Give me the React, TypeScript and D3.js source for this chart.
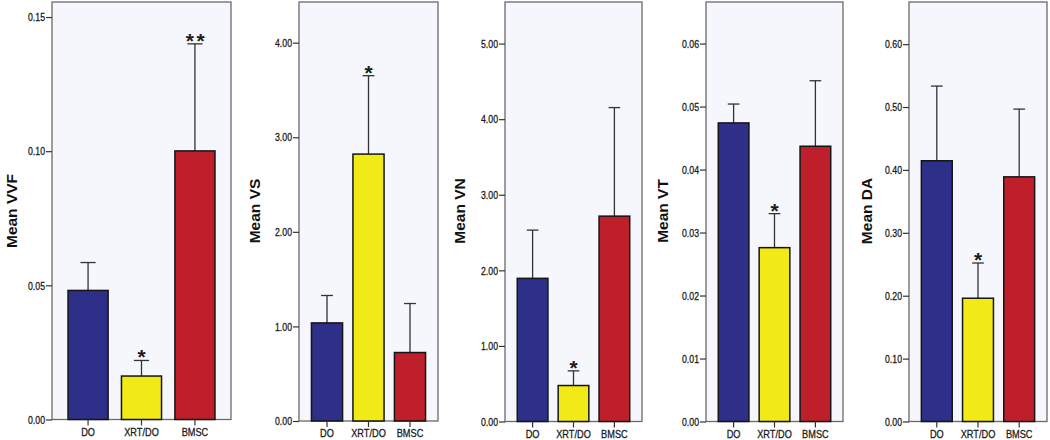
import React from 'react';
import * as d3 from 'd3';

const width = 1050;
const height = 440;
const frameTop = 2;

const groups = ['DO', 'XRT/DO', 'BMSC'];
const groupColors = ['#2e2f88', '#f1ea16', '#bf1f2b'];

const measures = ['VVF', 'VS', 'VN', 'VT', 'DA'];

// bar heights (means) and tops of the error bars
const vvfMeans = [0.0481, 0.0162, 0.1001];
const vvfUpper = [0.0585, 0.022, 0.14];
const vsMeans = [1.037, 2.822, 0.724];
const vsUpper = [1.327, 3.651, 1.242];
const vnMeans = [1.894, 0.476, 2.717];
const vnUpper = [2.532, 0.67, 4.153];
const vtMeans = [0.0474, 0.0276, 0.0437];
const vtUpper = [0.0504, 0.033, 0.0541];
const daMeans = [0.4146, 0.196, 0.389];
const daUpper = [0.5333, 0.252, 0.4967];

const vvfStars = ['', '*', '**'];
const vsStars = ['', '*', ''];
const vnStars = ['', '*', ''];
const vtStars = ['', '*', ''];
const daStars = ['', '*', ''];

const axisMax = [0.1556, 4.43, 5.55, 0.0666, 0.667];
const vvfTicks = [0, 0.05, 0.1, 0.15];
const vsTicks = [0, 1, 2, 3, 4];
const vnTicks = [0, 1, 2, 3, 4, 5];
const vtTicks = [0, 0.01, 0.02, 0.03, 0.04, 0.05, 0.06];
const daTicks = [0, 0.1, 0.2, 0.3, 0.4, 0.5, 0.6];

const means = [vvfMeans, vsMeans, vnMeans, vtMeans, daMeans];
const uppers = [vvfUpper, vsUpper, vnUpper, vtUpper, daUpper];
const stars = [vvfStars, vsStars, vnStars, vtStars, daStars];
const ticks = [vvfTicks, vsTicks, vnTicks, vtTicks, daTicks];

// plot boxes of the five panels
const frames = [
  {left: 52, right: 231, bottom: 419.5, titleGap: 35},
  {left: 299, right: 438, bottom: 421, titleGap: 39},
  {left: 505, right: 642, bottom: 421.5, titleGap: 40},
  {left: 706, right: 843, bottom: 421.5, titleGap: 38},
  {left: 909, right: 1047, bottom: 421.5, titleGap: 37},
];

const font = '"Liberation Sans", Arial, Helvetica, sans-serif';

// SPSS labels are narrower than Arial, squash them a bit
const squeeze = (sel: d3.Selection<any, any, any, any>, k: number) => {
  sel.selectAll('text').each(function () {
    const el = this as SVGTextElement;
    const w = el.getComputedTextLength();
    el.setAttribute('textLength', String(w * k));
    el.setAttribute('lengthAdjust', 'spacingAndGlyphs');
  });
};

const Panel: React.FC<{index: number}> = ({index}) => {
  const yAxisRef = React.useRef<SVGGElement>(null);
  const xAxisRef = React.useRef<SVGGElement>(null);
  const f = frames[index];

  const xScale = d3.scaleBand<string>()
    .domain(groups)
    .range([f.left, f.right])
    .paddingInner(0.25)
    .paddingOuter(0.3);

  const yScale = d3.scaleLinear()
    .domain([0, axisMax[index]])
    .range([f.bottom, frameTop]);

  React.useEffect(() => {
    if (yAxisRef.current) {
      const yAxis = d3.axisLeft(yScale)
        .tickValues(ticks[index])
        .tickFormat(d3.format('.2f'))
        .tickSize(6)
        .tickPadding(1);
      const g = d3.select(yAxisRef.current).call(yAxis);
      g.attr('font-size', 11.5).attr('font-family', font);
      g.select('.domain').remove();
      g.selectAll('line').attr('stroke', '#333').attr('stroke-width', 1.2);
      g.selectAll('text').attr('fill', '#1a1a1a').attr('stroke', '#1a1a1a').attr('stroke-width', 0.3);
      squeeze(g, 0.76);
    }
    if (xAxisRef.current) {
      const xAxis = d3.axisBottom(xScale).tickSize(6).tickPadding(2);
      const g = d3.select(xAxisRef.current).call(xAxis);
      g.attr('font-size', 11.5).attr('font-family', font);
      g.select('.domain').remove();
      g.selectAll('line').attr('stroke', '#333').attr('stroke-width', 1.2);
      g.selectAll('text').attr('fill', '#1a1a1a').attr('stroke', '#1a1a1a').attr('stroke-width', 0.3);
      squeeze(g, 0.8);
    }
  }, [index]);

  const bw = xScale.bandwidth();
  const capW = bw * 0.38;

  return (
    <g>
      <rect x={f.left} y={frameTop} width={f.right - f.left} height={f.bottom - frameTop}
        fill='#f5f7fc' stroke='#6a6a6a' strokeWidth={1.3} />
      {groups.map((grp, i) => {
        const x0 = xScale(grp) as number;
        const cx = x0 + bw / 2;
        const yTop = yScale(means[index][i]);
        const yErr = yScale(uppers[index][i]);
        const star = stars[index][i];
        return (
          <g key={grp}>
            <line x1={cx} x2={cx} y1={yTop} y2={yErr} stroke='#333' strokeWidth={1.3} />
            <line x1={cx - capW / 2} x2={cx + capW / 2} y1={yErr} y2={yErr} stroke='#333' strokeWidth={1.3} />
            <rect x={x0} y={yTop} width={bw} height={f.bottom - yTop}
              fill={groupColors[i]} stroke='#151515' strokeWidth={1.5} />
            {star && (
              <text x={cx + (star.length > 1 ? 1.5 : 0)} y={yErr + 4} textAnchor='middle'
                fontFamily={font} fontWeight='bold' fontSize={21} letterSpacing={star.length > 1 ? 2.5 : 0}
                fill='#1a1a1a'>
                {star}
              </text>
            )}
          </g>
        );
      })}
      <g ref={yAxisRef} transform={`translate(${f.left}, 0)`} />
      <g ref={xAxisRef} transform={`translate(0, ${f.bottom})`} />
      <text transform={`translate(${f.left - f.titleGap}, 211) rotate(-90)`} textAnchor='middle'
        fontFamily={font} fontWeight='bold' fontSize={15.5} fill='#111'>
        {`Mean ${measures[index]}`}
      </text>
    </g>
  );
};

const App: React.FC = () => {
  return (
    <svg width={width} height={height}
      style={{position: 'absolute', left: 0, top: 0, display: 'block', background: '#fff'}}>
      {measures.map((m, i) => <Panel key={m} index={i} />)}
    </svg>
  );
};

export default App;
